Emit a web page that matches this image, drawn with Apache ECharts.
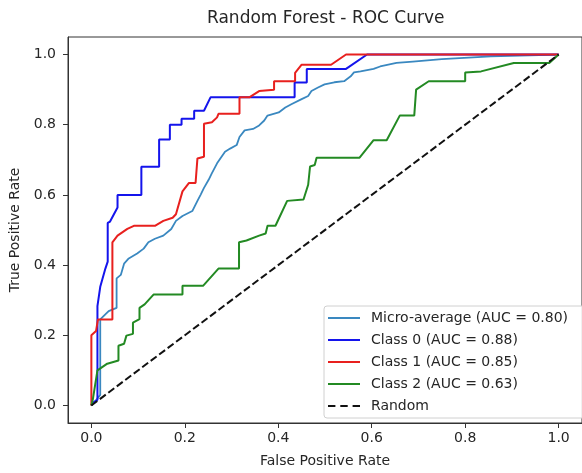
<!DOCTYPE html>
<html>
<head>
<meta charset="utf-8">
<script src="https://cdn.jsdelivr.net/npm/echarts@6/dist/echarts.min.js"></script>
<style>
  html, body { margin: 0; padding: 0; background: #fff; }
  #rocChart { width: 582px; height: 473px; }
</style>
</head>
<body>
<div id="rocChart"></div>
<script>
// values (fpr / tpr pairs)
const seriesNames = ['Micro-average (AUC = 0.80)', 'Class 0 (AUC = 0.88)', 'Class 1 (AUC = 0.85)', 'Class 2 (AUC = 0.63)', 'Random'];
const tickValues = [0, 0.2, 0.4, 0.6, 0.8, 1.0];

const microFpr = [0, 0.007, 0.019, 0.019, 0.037, 0.054, 0.054, 0.063, 0.07, 0.08, 0.098, 0.112, 0.122, 0.136, 0.154, 0.171, 0.181, 0.195, 0.216, 0.227, 0.234, 0.241, 0.251, 0.258, 0.269, 0.286, 0.297, 0.311, 0.317, 0.328, 0.346, 0.359, 0.37, 0.377, 0.401, 0.415, 0.429, 0.45, 0.464, 0.471, 0.485, 0.499, 0.52, 0.541, 0.555, 0.562, 0.576, 0.604, 0.618, 0.653, 0.688, 0.75, 0.855, 1];
const microTpr = [0, 0.01, 0.03, 0.245, 0.269, 0.278, 0.362, 0.372, 0.404, 0.419, 0.433, 0.447, 0.465, 0.475, 0.484, 0.503, 0.526, 0.54, 0.554, 0.583, 0.601, 0.62, 0.643, 0.662, 0.69, 0.723, 0.732, 0.742, 0.765, 0.784, 0.788, 0.798, 0.812, 0.826, 0.835, 0.849, 0.859, 0.873, 0.882, 0.896, 0.906, 0.915, 0.921, 0.924, 0.938, 0.949, 0.952, 0.959, 0.966, 0.976, 0.98, 0.987, 0.995, 1];

const class0Fpr = [0, 0.002, 0.013, 0.013, 0.019, 0.03, 0.035, 0.035, 0.04, 0.056, 0.056, 0.107, 0.107, 0.145, 0.145, 0.168, 0.168, 0.193, 0.193, 0.22, 0.22, 0.241, 0.255, 0.435, 0.435, 0.461, 0.461, 0.545, 0.59, 1];
const class0Tpr = [0, 0.007, 0.016, 0.283, 0.338, 0.39, 0.41, 0.52, 0.524, 0.564, 0.6, 0.6, 0.68, 0.68, 0.758, 0.758, 0.8, 0.8, 0.817, 0.817, 0.84, 0.84, 0.878, 0.878, 0.92, 0.92, 0.959, 0.959, 1, 1];

const class1Fpr = [0, 0, 0.01, 0.014, 0.045, 0.045, 0.056, 0.077, 0.091, 0.136, 0.154, 0.174, 0.181, 0.195, 0.209, 0.223, 0.227, 0.241, 0.241, 0.258, 0.269, 0.272, 0.317, 0.317, 0.338, 0.359, 0.391, 0.391, 0.436, 0.436, 0.45, 0.513, 0.545, 1];
const class1Tpr = [0, 0.2, 0.212, 0.245, 0.245, 0.465, 0.484, 0.503, 0.512, 0.512, 0.526, 0.535, 0.545, 0.61, 0.634, 0.634, 0.704, 0.709, 0.803, 0.807, 0.821, 0.831, 0.831, 0.878, 0.878, 0.896, 0.9, 0.924, 0.924, 0.948, 0.971, 0.971, 1, 1];

const class2Fpr = [0, 0.003, 0.013, 0.034, 0.058, 0.058, 0.07, 0.075, 0.089, 0.089, 0.103, 0.103, 0.114, 0.133, 0.195, 0.195, 0.239, 0.272, 0.316, 0.316, 0.332, 0.359, 0.373, 0.377, 0.394, 0.419, 0.454, 0.464, 0.468, 0.478, 0.482, 0.574, 0.604, 0.632, 0.66, 0.691, 0.695, 0.722, 0.8, 0.8, 0.834, 0.904, 0.98, 1];
const class2Tpr = [0, 0.016, 0.1, 0.119, 0.128, 0.17, 0.176, 0.199, 0.204, 0.236, 0.246, 0.278, 0.288, 0.316, 0.316, 0.341, 0.341, 0.39, 0.39, 0.465, 0.47, 0.484, 0.49, 0.512, 0.512, 0.583, 0.587, 0.629, 0.681, 0.685, 0.706, 0.706, 0.756, 0.756, 0.826, 0.826, 0.9, 0.924, 0.924, 0.949, 0.952, 0.976, 0.976, 1];

const randomFpr = [0, 1];
const randomTpr = [0, 1];

const zip = (xs, ys) => xs.map((x, i) => [x, ys[i]]);

const rocChart = echarts.init(document.getElementById('rocChart'));

const textColor = '#262626';
const fontFamily = 'DejaVu Sans';
// legend swatches: a flat line, and three dashes for the random diagonal
const solidIcon = 'path://M0,0h32v2h-32z';
const dashIcon = 'path://M0,0h7.4v2h-7.4z M12.3,0h7.4v2h-7.4z M24.6,0h7.4v2h-7.4z';

function lineSeries(name, data, color, width, type) {
  return {
    name: name,
    type: 'line',
    data: data,
    symbol: 'none',
    animation: false,
    lineStyle: { color: color, width: width, type: type || 'solid' },
    itemStyle: { color: color },
    z: 3
  };
}

const option = {
  backgroundColor: '#fff',
  textStyle: { fontFamily: fontFamily },
  title: {
    text: 'Random Forest - ROC Curve',
    left: 207,
    top: 10,
    padding: 0,
    textStyle: { fontSize: 17, fontWeight: 'normal', color: textColor, fontFamily: fontFamily }
  },
  grid: {
    left: 68,
    top: 37,
    width: 525,
    height: 391.5,
    show: true,
    borderColor: '#333',
    borderWidth: 1,
    backgroundColor: 'transparent'
  },
  legend: {
    orient: 'vertical',
    left: 324,
    top: 306,
    padding: [5, 18, 5, 4],
    itemWidth: 32,
    itemHeight: 14,
    itemGap: 8,
    symbolKeepAspect: true,
    backgroundColor: 'rgba(255,255,255,0.85)',
    borderColor: '#d0d0d0',
    borderWidth: 1,
    borderRadius: 3,
    data: seriesNames.map((n, i) => ({ name: n, icon: i === 4 ? dashIcon : solidIcon })),
    textStyle: { fontSize: 14, color: textColor, lineHeight: 14, padding: [0, 0, 0, 6], fontFamily: fontFamily }
  },
  xAxis: {
    type: 'value',
    min: -0.05,
    max: 1.05,
    name: 'False Positive Rate',
    nameLocation: 'middle',
    nameGap: 31,
    nameTextStyle: { fontSize: 14, color: textColor },
    splitLine: { show: false },
    axisLine: { onZero: false, lineStyle: { color: '#333' } },
    axisTick: { show: true, length: 5, customValues: tickValues, lineStyle: { color: '#333' } },
    axisLabel: {
      customValues: tickValues,
      fontSize: 14,
      color: textColor,
      margin: 8,
      formatter: v => v.toFixed(1)
    }
  },
  yAxis: {
    type: 'value',
    min: -0.05,
    max: 1.05,
    name: 'True Positive Rate',
    nameLocation: 'middle',
    nameGap: 41,
    nameTextStyle: { fontSize: 14, color: textColor },
    splitLine: { show: false },
    axisLine: { show: true, onZero: false, lineStyle: { color: '#333' } },
    axisTick: { show: true, length: 5, customValues: tickValues, lineStyle: { color: '#333' } },
    axisLabel: {
      customValues: tickValues,
      fontSize: 14,
      color: textColor,
      margin: 12,
      formatter: v => v.toFixed(1)
    }
  },
  series: [
    lineSeries(seriesNames[0], zip(microFpr, microTpr), '#3a88c0', 1.8),
    lineSeries(seriesNames[1], zip(class0Fpr, class0Tpr), '#1414ec', 2),
    lineSeries(seriesNames[2], zip(class1Fpr, class1Tpr), '#e8201e', 2),
    lineSeries(seriesNames[3], zip(class2Fpr, class2Tpr), '#238a23', 2),
    lineSeries(seriesNames[4], zip(randomFpr, randomTpr), '#111', 2, [7.4, 3.2])
  ]
};

rocChart.setOption(option);
</script>
</body>
</html>
